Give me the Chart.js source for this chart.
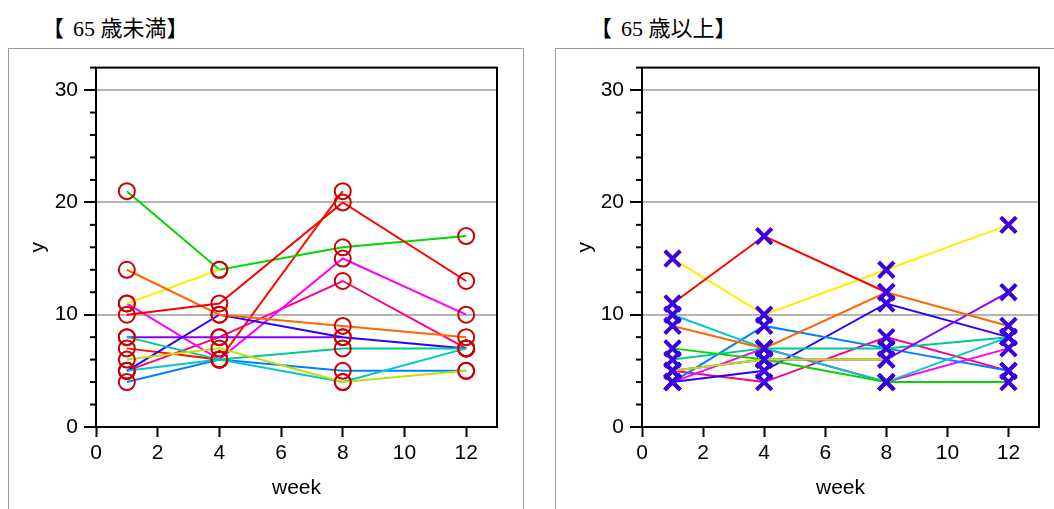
<!DOCTYPE html>
<html>
<head>
<meta charset="utf-8">
<script src="https://cdn.jsdelivr.net/npm/chart.js@4.4.1/dist/chart.umd.min.js"></script>
<style>
    body { margin: 0; background: #fff; width: 1054px; height: 509px; overflow: hidden; position: relative; }
    .title { position: absolute; top: 10px; font-family: "Liberation Serif", "Noto Sans CJK JP", serif; font-size: 22px; color: #000; white-space: pre; }
    .title span { margin-left: 9px; }
    .panel { position: absolute; top: 48px; height: 480px; border: 1px solid #999; }
    .panel canvas { position: absolute; left: 0; top: 0; }
</style>
</head>
<body>
<div class="title" style="left:42px">【<span>65 歳未満】</span></div>
<div class="title" style="left:590px">【<span>65 歳以上】</span></div>
<div class="panel" style="left:8px; width:514px"><canvas id="under65" width="514" height="460"></canvas></div>
<div class="panel" style="left:555px; width:510px"><canvas id="over65" width="498" height="460"></canvas></div>
<script>
// visit weeks
const weeks = [1, 4, 8, 12];

// 65歳未満 : one array per subject
const uRed = [10, 11, 20, 13];
const uOrange = [14, 10, 9, 8];
const uYellow = [11, 14, null, null];
const uYellowGreen = [6, 7, 4, 5];
const uGreen = [21, 14, 16, 17];
const uTeal = [8, 6, 7, 7];
const uCyan = [5, 6, 4, 7];
const uAzure = [4, 6, 5, 5];
const uBlue = [5, 10, 8, 7];
const uViolet = [8, 8, 8, null];
const uMagenta = [11, 6, 15, 10];
const uPink = [5, 8, 13, 7];
const uRed2 = [7, 6, 21, null];

// 65歳以上
const oRed = [11, 17, 12, null];
const oOrange = [9, 7, 12, 9];
const oYellow = [15, 10, 14, 18];
const oYellowGreen = [5, 6, 6, null];
const oGreen = [7, 6, 4, 4];
const oTeal = [6, 7, 7, 8];
const oCyan = [10, 7, 4, 8];
const oAzure = [4, 9, 7, 5];
const oBlue = [4, 5, 11, 8];
const oPurple = [5, 6, 6, 12];
const oMagenta = [4, 7, 4, 7];
const oPink = [5, 4, 8, 5];

const yTicksMajor = [0, 10, 20, 30];
const xTickLabels = [0, 2, 4, 6, 8, 10, 12];

const underSeries = [uRed, uOrange, uYellow, uYellowGreen, uGreen, uTeal, uCyan, uAzure, uBlue, uViolet, uMagenta, uPink, uRed2];
const underColors = ['#ff0000', '#ff6600', '#ffee00', '#c0e000', '#00d800', '#00c890', '#00c8c8', '#0080ff', '#2a00ff', '#8a00ff', '#ff00ff', '#ff0080', '#ff1000'];
const overSeries = [oRed, oOrange, oYellow, oYellowGreen, oPurple, oGreen, oTeal, oCyan, oAzure, oBlue, oMagenta, oPink];
const overColors = ['#ff0000', '#ff6600', '#ffee00', '#c0e000', '#8a00ff', '#00d800', '#00c890', '#00c8c8', '#0080ff', '#2a00ff', '#ff00ff', '#ff0080'];

const FONT = { family: '"Liberation Sans", Arial, sans-serif', size: 21 };

// box around the plot area + short minor ticks on y
const framePlugin = {
    id: 'frame',
    beforeDatasetsDraw(chart) {
        const { ctx, chartArea: a, scales: { y } } = chart;
        ctx.save();
        ctx.strokeStyle = '#000';
        ctx.lineWidth = 2;
        ctx.strokeRect(a.left, a.top, a.right - a.left, a.bottom - a.top);
        y.ticks.forEach(t => {
            if (yTicksMajor.includes(t.value)) return;
            const py = y.getPixelForValue(t.value);
            ctx.beginPath();
            ctx.moveTo(a.left - 6, py);
            ctx.lineTo(a.left, py);
            ctx.stroke();
        });
        ctx.restore();
    }
};

function makeChart(id, series, colors, marker, axisWidth, rightPad) {
    const datasets = series.map((vals, i) => ({
        data: vals.map((v, j) => ({ x: weeks[j], y: v })),
        borderColor: colors[i],
        borderWidth: 2,
        pointStyle: marker.style,
        pointRadius: marker.radius,
        pointBorderColor: marker.color,
        pointBorderWidth: marker.width,
        pointBackgroundColor: 'rgba(0,0,0,0)',
        spanGaps: false,
        tension: 0
    }));

    return new Chart(document.getElementById(id), {
        type: 'line',
        data: { datasets },
        options: {
            responsive: false,
            animation: false,
            layout: { padding: { top: 17, right: rightPad, left: 0, bottom: 0 } },
            plugins: { legend: { display: false }, tooltip: { enabled: false } },
            scales: {
                x: {
                    type: 'linear',
                    min: 0,
                    max: 13,
                    afterFit: s => { s.height = 82; },
                    ticks: {
                        stepSize: 2,
                        includeBounds: false,
                        autoSkip: false,
                        maxRotation: 0,
                        color: '#000',
                        font: FONT,
                        padding: 4,
                        callback: v => xTickLabels.includes(v) ? v : ''
                    },
                    grid: { drawOnChartArea: false, tickLength: 10, tickColor: '#000', tickWidth: 2 },
                    border: { color: '#000', width: 2 },
                    title: { display: true, text: 'week', color: '#000', font: FONT, padding: { top: 0, bottom: 8 } }
                },
                y: {
                    min: 0,
                    max: 32,
                    afterFit: s => { s.width = axisWidth; },
                    ticks: {
                        stepSize: 2,
                        autoSkip: false,
                        color: '#000',
                        font: FONT,
                        padding: 6,
                        callback: v => yTicksMajor.includes(v) ? v : ''
                    },
                    grid: {
                        color: c => (c.tick && c.tick.value > 0 && yTicksMajor.includes(c.tick.value)) ? '#b4b4b4' : 'rgba(0,0,0,0)',
                        lineWidth: 2,
                        tickLength: 12,
                        tickWidth: 2,
                        tickColor: c => (c.tick && yTicksMajor.includes(c.tick.value)) ? '#000' : 'rgba(0,0,0,0)'
                    },
                    border: { color: '#000', width: 2 },
                    title: { display: true, text: 'y', color: '#000', font: FONT, padding: { top: 17, bottom: 0 } }
                }
            }
        },
        plugins: [framePlugin]
    });
}

makeChart('under65', underSeries, underColors, { style: 'circle', radius: 8, color: '#cc0000', width: 2 }, 87, 26);
makeChart('over65', overSeries, overColors, { style: 'crossRot', radius: 11, color: '#3a00e0', width: 4 }, 86, 13);
</script>
</body>
</html>
